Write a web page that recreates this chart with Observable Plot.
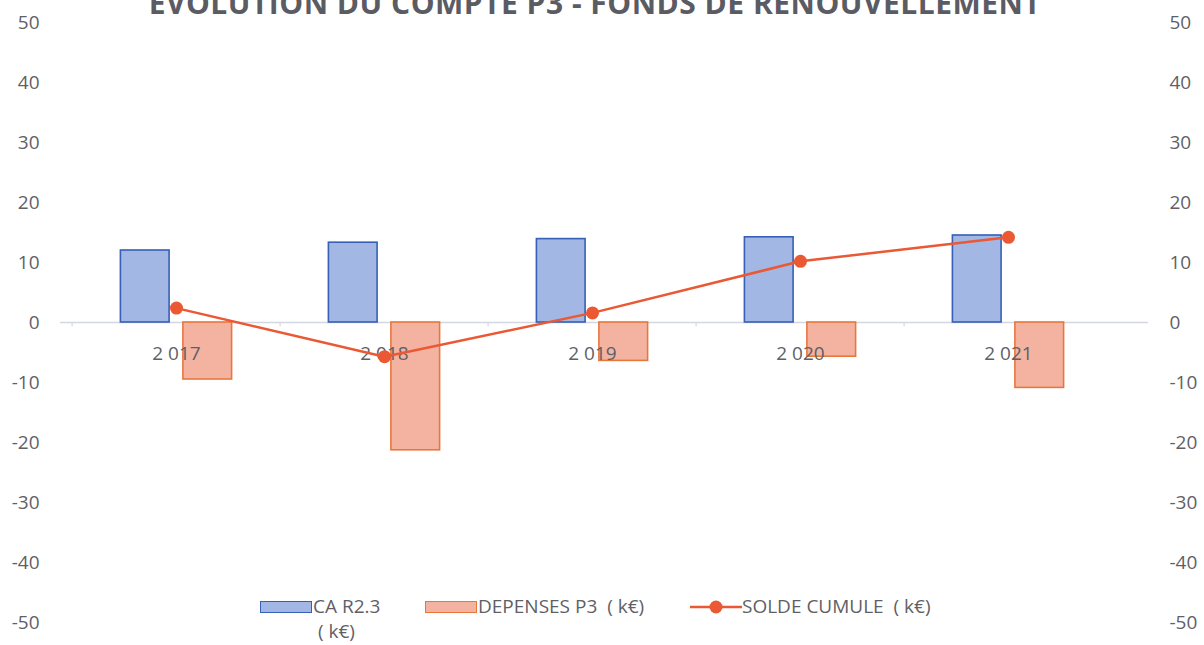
<!DOCTYPE html>
<html><head><meta charset="utf-8">
<script src="https://cdn.jsdelivr.net/npm/d3@7"></script>
<script src="https://cdn.jsdelivr.net/npm/@observablehq/plot@0.6"></script>
<style>
body{margin:0;background:#fff;font-family:"Open Sans",sans-serif;}
#wrap{position:relative;width:1204px;height:645px;overflow:hidden;background:#fff;}
#chart{position:absolute;left:0;top:0;}
#title{position:absolute;left:0;width:1190px;text-align:center;top:-18px;font-weight:700;font-size:30px;color:#5b5b63;white-space:nowrap;letter-spacing:0.5px;}
.lg{position:absolute;font-size:19px;color:#5f5f66;line-height:25px;white-space:nowrap;}
.sw{position:absolute;width:52px;height:12px;box-sizing:border-box;}
</style></head>
<body>
<div id="wrap">
  <div id="chart"></div>
  <div id="title">EVOLUTION DU COMPTE P3 - FONDS DE RENOUVELLEMENT</div>
  <div id="legend"></div>
</div>
<script>
const years = ["2 017", "2 018", "2 019", "2 020", "2 021"];
const caR23 = [12.0, 13.3, 13.9, 14.2, 14.5];
const depensesP3 = [-9.5, -21.3, -6.4, -5.7, -10.9];
const soldeCumule = [2.4, -5.7, 1.6, 10.2, 14.2];
const yTicks = [-50, -40, -30, -20, -10, 0, 10, 20, 30, 40, 50];
const seriesNames = ["CA R2.3 ( k€)", "DEPENSES P3  ( k€)", "SOLDE CUMULE  ( k€)"];

const blueFill = "#a2b7e4", blueStroke = "#3560b5";
const orangeFill = "#f4b2a1", orangeStroke = "#e8773c";
const lineColor = "#ea5834";
const textColor = "#5f5f66";

const data = years.map((y, i) => ({year: y, ca: caR23[i], dep: depensesP3[i], solde: soldeCumule[i]}));

const W = 1204, H = 645, mL = 70, mR = 90;
const bw = (W - mL - mR) / years.length;
const half = bw / 2;

const chart = Plot.plot({
  width: W, height: H,
  marginTop: 22, marginBottom: 23, marginLeft: mL, marginRight: mR,
  x: {type: "band", domain: years, padding: 0, axis: null},
  y: {domain: [-50, 50], axis: null},
  style: {fontFamily: "'Open Sans', sans-serif", fontSize: "19px", color: textColor, background: "transparent", overflow: "visible"},
  marks: [
    Plot.text(yTicks, {y: d => d, text: d => String(d), frameAnchor: "left", dx: -31, textAnchor: "end", fill: textColor, fontSize: 19}),
    Plot.text(yTicks, {y: d => d, text: d => String(d), frameAnchor: "right", dx: 55, textAnchor: "start", fill: textColor, fontSize: 19}),
    Plot.ruleY([0], {stroke: "#d3d7e2", strokeWidth: 1.5, insetLeft: -10, insetRight: -34}),
    Plot.ruleX(data, {x: "year", y1: 0, y2: -0.7, dx: -half, stroke: "#d3d7e2", strokeWidth: 1.2}),
    Plot.barY(data, {x: "year", y: "ca", fill: blueFill, stroke: blueStroke, strokeWidth: 1.6, insetLeft: half - 56, insetRight: half + 6.5}),
    Plot.barY(data, {x: "year", y: "dep", fill: orangeFill, stroke: orangeStroke, strokeWidth: 1.6, insetLeft: half + 6.5, insetRight: half - 56}),
    Plot.text(data, {x: "year", y: 0, dy: 31, text: "year", fill: textColor, fontSize: 19}),
    Plot.line(data, {x: "year", y: "solde", stroke: lineColor, strokeWidth: 2.5}),
    Plot.dot(data, {x: "year", y: "solde", r: 6.5, fill: lineColor, stroke: "none"})
  ]
});
document.getElementById("chart").appendChild(chart);

// legend
const legend = document.getElementById("legend");
function add(html) { const d = document.createElement("div"); d.innerHTML = html; legend.appendChild(d.firstChild); }
add(`<div class="sw" style="left:260px;top:601px;background:${blueFill};border:1.5px solid ${blueStroke}"></div>`);
add(`<div class="lg" style="left:313px;top:594px;">${seriesNames[0].split(" (")[0]}<br>&nbsp;(${seriesNames[0].split(" (")[1]}</div>`);
add(`<div class="sw" style="left:425px;top:601px;background:${orangeFill};border:1.5px solid ${orangeStroke}"></div>`);
add(`<div class="lg" style="left:478px;top:594px;">${seriesNames[1].replace(/  /g, "&nbsp; ")}</div>`);
add(`<svg style="position:absolute;left:690px;top:597px" width="52" height="20"><line x1="0" y1="10" x2="52" y2="10" stroke="${lineColor}" stroke-width="2.5"/><circle cx="26" cy="10" r="6.5" fill="${lineColor}"/></svg>`);
add(`<div class="lg" style="left:742px;top:594px;">${seriesNames[2].replace(/  /g, "&nbsp; ")}</div>`);
</script>
</body></html>
